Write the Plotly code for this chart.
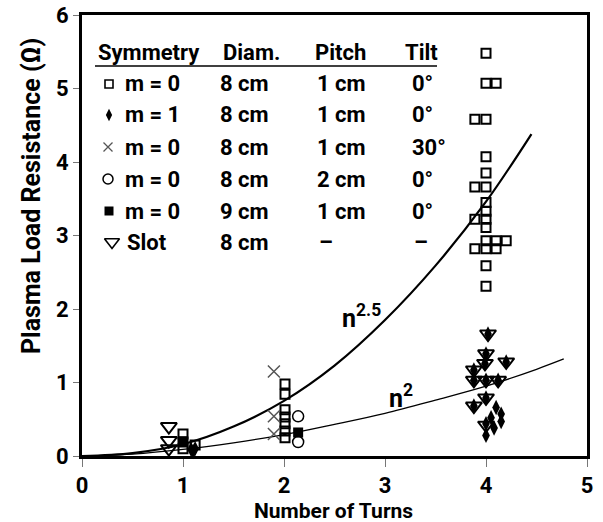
import plotly.graph_objects as go

# ---------------- data ----------------
sq_x = [1.0, 1.0, 1.0, 1.12,
        2.01, 2.01, 2.01, 2.01, 2.01, 2.01, 2.01,
        4.0, 4.0, 4.1, 3.89, 4.0, 4.0, 4.0, 3.89, 4.0, 4.0, 4.0, 3.89, 4.0, 4.0,
        4.0, 4.1, 4.2, 3.89, 4.0, 4.1, 4.0, 4.0]
sq_y = [0.30, 0.19, 0.10, 0.15,
        0.98, 0.84, 0.63, 0.53, 0.44, 0.34, 0.25,
        5.48, 5.07, 5.07, 4.58, 4.58, 4.07, 3.85, 3.66, 3.66, 3.45, 3.33, 3.22, 3.22, 3.11,
        2.93, 2.93, 2.93, 2.82, 2.82, 2.82, 2.59, 2.31]

dia_x = [1.08, 1.10, 1.12,
         4.02, 4.0, 3.99, 4.2, 3.88, 3.88, 4.0, 4.12, 4.0, 3.88, 4.1, 4.15, 4.05, 4.15, 4.08, 4.0, 4.0]
dia_y = [0.09, 0.06, 0.10,
         1.66, 1.39, 1.26, 1.28, 1.17, 1.03, 1.03, 1.03, 0.79, 0.68, 0.66, 0.57, 0.52, 0.47, 0.38, 0.28, 0.44]

x_x = [1.9, 1.9, 1.9]
x_y = [1.15, 0.54, 0.30]

circ_x = [2.14, 2.14]
circ_y = [0.54, 0.19]

fsq_x = [1.0, 2.14]
fsq_y = [0.20, 0.32]

tri_x = [0.86, 0.86, 0.86,
         4.02, 4.0, 3.99, 4.2, 3.88, 3.88, 4.0, 4.12, 4.0, 3.88, 4.0]
tri_y = [0.40, 0.21, 0.10,
         1.66, 1.39, 1.26, 1.28, 1.17, 1.03, 1.03, 1.03, 0.79, 0.68, 0.42]

# curves
c25_x = [0, 0.5, 1.0, 1.5, 2.0, 2.5, 3.0, 3.5, 4.0, 4.45]
c25_y = [0, 0.04, 0.16, 0.40, 0.75, 1.23, 1.85, 2.59, 3.46, 4.38]
c2_x = [0, 0.5, 1.0, 1.5, 2.0, 2.5, 3.0, 3.5, 4.0, 4.5, 4.77]
c2_y = [0, 0.026, 0.09, 0.18, 0.29, 0.43, 0.58, 0.76, 0.95, 1.18, 1.32]

x_ticks = [0, 1, 2, 3, 4, 5]
y_ticks = [0, 1, 2, 3, 4, 5, 6]

# table text
tbl_header = ["Symmetry", "Diam.", "Pitch", "Tilt"]
tbl_col1 = ["m = 0", "m = 1", "m = 0", "m = 0", "m = 0", "Slot"]
tbl_col2 = ["8 cm", "8 cm", "8 cm", "8 cm", "9 cm", "8 cm"]
tbl_col3 = ["1 cm", "1 cm", "1 cm", "2 cm", "1 cm", "–"]
tbl_col4 = ["0°", "0°", "30°", "0°", "0°", "–"]

x_title = "Number of Turns"
y_title = "Plasma Load Resistance (Ω)"

# ---------------- layout geometry (pixels) ----------------
W, H = 603, 522
L, R, T, B = 82, 16, 15, 66
PW, PH = W - L - R, H - T - B
XR, YR = (0, 5), (0, 6)


def px2x(px):
    return XR[0] + (px - L) / PW * (XR[1] - XR[0])


def py2y(py):
    return YR[0] + (T + PH - py) / PH * (YR[1] - YR[0])


def px2p(px):
    return (px - L) / PW


def py2p(py):
    return (T + PH - py) / PH


FONT = "Roboto, Liberation Sans, Arial, sans-serif"
BLACK = "#000000"

fig = go.Figure()

# curves
fig.add_trace(go.Scatter(x=c25_x, y=c25_y, mode="lines", line=dict(color=BLACK, width=2.2, shape="spline"),
                         hoverinfo="skip", showlegend=False))
fig.add_trace(go.Scatter(x=c2_x, y=c2_y, mode="lines", line=dict(color=BLACK, width=1.3, shape="spline"),
                         hoverinfo="skip", showlegend=False))

# markers
fig.add_trace(go.Scatter(x=sq_x, y=sq_y, mode="markers",
                         marker=dict(symbol="square-open", size=9, color=BLACK, line=dict(width=2, color=BLACK)),
                         showlegend=False, cliponaxis=False))
fig.add_trace(go.Scatter(x=tri_x, y=tri_y, mode="markers",
                         marker=dict(symbol="triangle-down-open", size=14, color=BLACK, line=dict(width=2, color=BLACK)),
                         showlegend=False, cliponaxis=False))
fig.add_trace(go.Scatter(x=dia_x, y=dia_y, mode="markers",
                         marker=dict(symbol="diamond-tall", size=11, color=BLACK, line=dict(width=0)),
                         showlegend=False, cliponaxis=False))
fig.add_trace(go.Scatter(x=x_x, y=x_y, mode="markers",
                         marker=dict(symbol="x-thin-open", size=12, color="#555555", line=dict(width=1.5, color="#555555")),
                         showlegend=False, cliponaxis=False))
fig.add_trace(go.Scatter(x=circ_x, y=circ_y, mode="markers",
                         marker=dict(symbol="circle-open", size=11, color=BLACK, line=dict(width=1.5, color=BLACK)),
                         showlegend=False, cliponaxis=False))
fig.add_trace(go.Scatter(x=fsq_x, y=fsq_y, mode="markers",
                         marker=dict(symbol="square", size=10, color=BLACK, line=dict(width=0)),
                         showlegend=False, cliponaxis=False))

# table symbols (legend)
row_py = [84, 115, 147, 179, 211, 242]
sym_specs = [
    dict(symbol="square-open", size=8, color=BLACK, line=dict(width=1.6, color=BLACK)),
    dict(symbol="diamond-tall", size=9, color=BLACK, line=dict(width=0)),
    dict(symbol="x-thin-open", size=9, color="#555555", line=dict(width=1.3, color="#555555")),
    dict(symbol="circle-open", size=10, color=BLACK, line=dict(width=1.5, color=BLACK)),
    dict(symbol="square", size=9, color=BLACK, line=dict(width=0)),
    dict(symbol="triangle-down-open", size=13, color=BLACK, line=dict(width=1.6, color=BLACK)),
]
sym_px = [109, 109, 108, 108, 109, 112]
for spx, spy, spec in zip(sym_px, row_py, sym_specs):
    fig.add_trace(go.Scatter(x=[px2x(spx)], y=[py2y(spy)], mode="markers", marker=spec,
                             showlegend=False, cliponaxis=False, hoverinfo="skip"))

annotations = []
tfont = dict(family=FONT, size=22, color=BLACK, weight="bold")
hdr_px = [96, 221, 313, 403]
for txt, hx in zip(tbl_header, hdr_px):
    annotations.append(dict(x=px2p(hx), y=py2p(52), xref="paper", yref="paper", text=txt, showarrow=False,
                            xanchor="left", yanchor="middle", font=tfont))
col_px = [(123, tbl_col1), (218, tbl_col2), (315, tbl_col3), (410, tbl_col4)]
for cx, col in col_px:
    for txt, ry in zip(col, row_py):
        xx = cx
        if txt == "Slot":
            xx = 125
        if txt == "–":
            xx = cx + 2
        annotations.append(dict(x=px2p(xx), y=py2p(ry), xref="paper", yref="paper", text=txt, showarrow=False,
                                xanchor="left", yanchor="middle", font=tfont))

# curve labels
annotations.append(dict(x=px2p(340), y=py2p(316), xref="paper", yref="paper", text="n<sup>2.5</sup>",
                        showarrow=False, xanchor="left", yanchor="middle",
                        font=dict(family=FONT, size=25, color=BLACK, weight="bold")))
annotations.append(dict(x=px2p(387), y=py2p(396), xref="paper", yref="paper", text="n<sup>2</sup>",
                        showarrow=False, xanchor="left", yanchor="middle",
                        font=dict(family=FONT, size=25, color=BLACK, weight="bold")))

# axis titles
annotations.append(dict(x=px2p(31), y=py2p(196), xref="paper", yref="paper",
                        text=y_title, textangle=-90, showarrow=False,
                        xanchor="center", yanchor="middle",
                        font=dict(family=FONT, size=25, color=BLACK, weight="bold")))
annotations.append(dict(x=px2p(333), y=py2p(511), xref="paper", yref="paper",
                        text=x_title, showarrow=False,
                        xanchor="center", yanchor="middle",
                        font=dict(family=FONT, size=21, color=BLACK, weight="bold")))

shapes = [dict(type="line", xref="paper", yref="paper", x0=px2p(95), x1=px2p(437), y0=py2p(66), y1=py2p(66),
               line=dict(color=BLACK, width=1.5))]

fig.update_layout(
    width=W, height=H,
    margin=dict(l=L, r=R, t=T, b=B, autoexpand=False),
    paper_bgcolor="white", plot_bgcolor="white",
    showlegend=False,
    annotations=annotations,
    shapes=shapes,
    xaxis=dict(range=list(XR), tickvals=x_ticks, ticktext=[str(v) for v in x_ticks],
               automargin=False,
               showgrid=False, zeroline=False, showline=True, linecolor=BLACK, linewidth=3, mirror=True,
               ticks="outside", ticklen=8, tickwidth=1, tickcolor="#777777",
               tickfont=dict(family=FONT, size=22, color=BLACK, weight="bold")),
    yaxis=dict(range=list(YR), tickvals=y_ticks, ticktext=[str(v) for v in y_ticks],
               automargin=False,
               showgrid=False, zeroline=False, showline=True, linecolor=BLACK, linewidth=3, mirror=True,
               ticks="outside", ticklen=6, tickwidth=1, tickcolor="#777777",
               tickfont=dict(family=FONT, size=22, color=BLACK, weight="bold")),
)

fig.write_html("out.html")
